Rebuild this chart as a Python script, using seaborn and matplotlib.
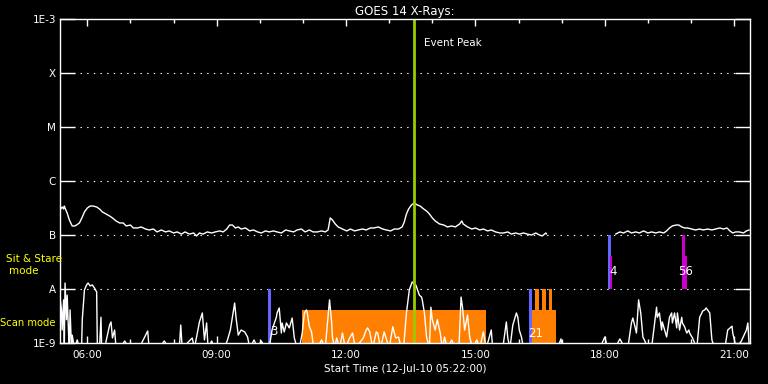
import numpy as np
import pandas as pd
import matplotlib
matplotlib.use("Agg")
import matplotlib.pyplot as plt
import seaborn as sns
from matplotlib.ticker import FixedLocator, NullLocator

# ---------------- data ----------------
title = "GOES 14 X-Rays:"
xlabel = "Start Time (12-Jul-10 05:22:00)"
start_hour = 5 + 22 / 60          # 05:22
span_minutes = 960                # 16 hours shown

# long channel (1-8 A): (minutes since start, W/m^2)
long_channel = [
    (0, 2.90e-7), (3, 3.30e-7), (5, 3.03e-7), (6, 3.44e-7), (7, 3.16e-7), (10, 2.55e-7),
    (13, 1.90e-7), (17, 1.47e-7), (21, 1.47e-7), (27, 1.67e-7), (31, 2.15e-7), (34, 2.67e-7),
    (38, 3.16e-7), (42, 3.44e-7), (46, 3.44e-7), (51, 3.30e-7), (55, 3.03e-7), (59, 2.67e-7),
    (64, 2.45e-7), (69, 2.25e-7), (73, 2.07e-7), (78, 1.82e-7), (83, 1.67e-7), (88, 1.67e-7),
    (92, 1.47e-7), (98, 1.53e-7), (102, 1.35e-7), (108, 1.35e-7), (113, 1.41e-7), (119, 1.29e-7),
    (124, 1.24e-7), (130, 1.29e-7), (135, 1.14e-7), (141, 1.24e-7), (147, 1.14e-7), (152, 1.19e-7),
    (158, 1.09e-7), (163, 1.14e-7), (169, 1.04e-7), (174, 1.14e-7), (180, 1.04e-7), (186, 1.09e-7),
    (190, 9.6e-8), (194, 1.09e-7), (199, 1.04e-7), (205, 1.14e-7), (211, 1.09e-7), (216, 1.14e-7),
    (222, 1.19e-7), (227, 1.14e-7), (232, 1.29e-7), (236, 1.53e-7), (240, 1.53e-7), (244, 1.35e-7),
    (248, 1.41e-7), (252, 1.29e-7), (258, 1.35e-7), (264, 1.19e-7), (269, 1.24e-7), (275, 1.14e-7),
    (280, 1.09e-7), (286, 1.19e-7), (291, 1.14e-7), (297, 1.19e-7), (302, 1.14e-7), (308, 1.09e-7),
    (314, 1.24e-7), (319, 1.19e-7), (325, 1.14e-7), (330, 1.24e-7), (336, 1.29e-7), (341, 1.14e-7),
    (347, 1.24e-7), (352, 1.14e-7), (358, 1.14e-7), (364, 1.19e-7), (369, 1.14e-7), (373, 1.24e-7),
    (376, 2.07e-7), (379, 1.90e-7), (383, 1.60e-7), (387, 1.41e-7), (393, 1.29e-7), (399, 1.19e-7),
    (404, 1.29e-7), (410, 1.19e-7), (415, 1.24e-7), (421, 1.29e-7), (426, 1.24e-7), (432, 1.35e-7),
    (437, 1.35e-7), (443, 1.41e-7), (449, 1.29e-7), (454, 1.24e-7), (460, 1.19e-7), (465, 1.29e-7),
    (471, 1.29e-7), (476, 1.41e-7), (479, 1.74e-7), (482, 2.45e-7), (485, 3.03e-7), (489, 3.60e-7),
    (493, 3.92e-7), (497, 3.60e-7), (501, 3.44e-7), (506, 3.03e-7), (510, 2.78e-7), (514, 2.45e-7),
    (518, 2.07e-7), (522, 1.82e-7), (528, 1.60e-7), (534, 1.53e-7), (539, 1.41e-7), (545, 1.47e-7),
    (550, 1.41e-7), (556, 1.60e-7), (559, 1.82e-7), (561, 1.60e-7), (567, 1.41e-7), (573, 1.29e-7),
    (578, 1.35e-7), (584, 1.24e-7), (589, 1.29e-7), (595, 1.19e-7), (600, 1.24e-7), (606, 1.14e-7),
    (612, 1.09e-7), (617, 1.09e-7), (623, 1.14e-7), (628, 1.04e-7), (634, 1.09e-7), (639, 1.04e-7),
    (645, 1.09e-7), (650, 1.04e-7), (656, 1.00e-7), (662, 1.09e-7), (667, 1.00e-7), (671, 9.6e-8),
    (676, 1.09e-7), (677, 1.04e-7),
    # data gap 16:40 - 18:15
    (773, 1.04e-7), (779, 1.14e-7), (784, 1.09e-7), (790, 1.19e-7), (795, 1.09e-7), (801, 1.14e-7),
    (806, 1.09e-7), (812, 1.19e-7), (818, 1.09e-7), (823, 1.14e-7), (829, 1.09e-7), (834, 1.14e-7),
    (840, 1.09e-7), (844, 1.19e-7), (848, 1.35e-7), (852, 1.47e-7), (857, 1.53e-7), (861, 1.53e-7),
    (865, 1.41e-7), (869, 1.35e-7), (873, 1.35e-7), (879, 1.29e-7), (884, 1.24e-7), (890, 1.29e-7),
    (895, 1.24e-7), (901, 1.29e-7), (907, 1.24e-7), (912, 1.29e-7), (918, 1.35e-7), (923, 1.29e-7),
    (928, 1.35e-7), (932, 1.19e-7), (936, 1.09e-7), (940, 1.14e-7), (945, 1.14e-7), (951, 1.09e-7),
    (955, 1.19e-7), (959, 1.24e-7),
]
long_gap_start = 720   # minutes: segment break of the long channel

# short channel (0.5-4 A): (minutes since start, W/m^2); 8e-10 = below plot floor
short_channel = [
    (0, 7.1e-9), (2, 4.1e-9), (3, 1.74e-9), (5, 6.3e-9), (6, 8e-10), (7, 1.29e-8), (9, 2.7e-9),
    (10, 7.7e-9), (12, 1.4e-9), (13, 8e-10), (14, 4.1e-9), (16, 8e-10), (17, 1.4e-9), (20, 8e-10),
    (24, 1.14e-9), (27, 8e-10), (30, 8e-10), (31, 2.7e-9), (34, 9.6e-9), (37, 1.19e-8), (39, 1.29e-8),
    (42, 1.14e-8), (45, 1.19e-8), (48, 1.04e-8), (51, 8.8e-9), (52, 8e-10), (55, 8e-10), (57, 3.0e-9),
    (58, 8e-10), (62, 8e-10), (66, 1.4e-9), (69, 2.15e-9), (71, 2.45e-9), (73, 1.24e-9), (76, 1.74e-9),
    (78, 8e-10), (83, 8e-10), (90, 1.09e-9), (96, 8e-10), (110, 8e-10), (119, 1.4e-9), (122, 1.67e-9),
    (124, 8e-10), (138, 8e-10), (145, 1.09e-9), (152, 8e-10), (166, 8e-10), (168, 2.15e-9), (170, 8e-10),
    (184, 1.24e-9), (187, 8e-10), (194, 2.45e-9), (198, 3.6e-9), (201, 1.14e-9), (204, 2.35e-9),
    (206, 8e-10), (211, 1.09e-9), (215, 8e-10), (229, 8e-10), (233, 1.14e-9), (237, 1.74e-9),
    (243, 5.5e-9), (245, 2.9e-9), (248, 1.4e-9), (252, 1.74e-9), (257, 1.6e-9), (261, 1.29e-9),
    (264, 8e-10), (270, 1.14e-9), (275, 8e-10), (280, 1.09e-9), (286, 8e-10), (291, 8e-10),
    (295, 1.74e-9), (301, 3.0e-9), (302, 3.6e-9), (305, 4.45e-9), (308, 1.53e-9), (309, 2.35e-9),
    (312, 1.6e-9), (315, 2.35e-9), (319, 1.9e-9), (323, 2.9e-9), (326, 1.24e-9), (330, 8e-10),
    (333, 8e-10), (337, 1.53e-9), (340, 3.6e-9), (343, 4.1e-9), (344, 3.6e-9), (347, 2.0e-9),
    (350, 1.6e-9), (353, 8e-10), (358, 8e-10), (364, 1.14e-9), (369, 8e-10), (375, 6.3e-9),
    (378, 2.35e-9), (379, 1.29e-9), (382, 8e-10), (385, 1.24e-9), (389, 8e-10), (393, 1.53e-9),
    (397, 8e-10), (403, 1.24e-9), (407, 1.53e-9), (411, 8e-10), (422, 1.24e-9), (426, 1.74e-9),
    (428, 1.9e-9), (431, 1.6e-9), (435, 8e-10), (440, 1.6e-9), (442, 1.53e-9), (446, 8e-10),
    (451, 1.6e-9), (458, 8e-10), (463, 2.0e-9), (467, 1.24e-9), (471, 1.29e-9), (475, 8e-10),
    (478, 8e-10), (482, 3.6e-9), (486, 9.6e-9), (490, 1.35e-8), (495, 1.19e-8), (500, 7.7e-9),
    (503, 7.1e-9), (504, 6.3e-9), (507, 3.6e-9), (510, 1.29e-9), (514, 8e-10), (516, 4.6e-9),
    (518, 2.7e-9), (522, 1.74e-9), (525, 2.7e-9), (529, 1.53e-9), (532, 8e-10), (535, 1.29e-9),
    (539, 8e-10), (545, 1.14e-9), (550, 8e-10), (555, 8e-10), (558, 7.1e-9), (560, 4.6e-9),
    (563, 1.74e-9), (567, 3.3e-9), (570, 1.29e-9), (574, 8e-10), (580, 1.14e-9), (584, 8e-10),
    (589, 1.6e-9), (593, 8e-10), (600, 1.74e-9), (602, 8e-10), (616, 8e-10), (621, 2.45e-9),
    (623, 1.24e-9), (626, 8e-10), (630, 2.15e-9), (635, 3.6e-9), (637, 3.0e-9), (639, 1.74e-9),
    (642, 1.29e-9), (645, 8e-10), (667, 8e-10), (692, 8e-10), (697, 1.19e-9), (699, 8e-10),
    (751, 8e-10), (758, 1.29e-9), (762, 8e-10), (772, 8e-10), (779, 1.19e-9), (786, 8e-10),
    (790, 8e-10), (795, 2.35e-9), (797, 2.9e-9), (800, 2.0e-9), (802, 1.53e-9), (805, 6.3e-9),
    (808, 3.6e-9), (811, 1.29e-9), (813, 1.14e-9), (818, 8e-10), (823, 8e-10), (830, 4.6e-9),
    (831, 3.0e-9), (834, 3.6e-9), (837, 1.74e-9), (838, 2.45e-9), (844, 1.29e-9), (848, 3.0e-9),
    (851, 3.6e-9), (852, 2.35e-9), (855, 3.6e-9), (858, 1.9e-9), (859, 3.6e-9), (862, 1.74e-9),
    (865, 3.0e-9), (866, 2.35e-9), (869, 2.0e-9), (872, 1.53e-9), (875, 1.74e-9), (876, 1.53e-9),
    (880, 1.24e-9), (886, 8e-10), (890, 3.0e-9), (893, 3.6e-9), (894, 3.9e-9), (897, 4.1e-9),
    (899, 4.45e-9), (901, 4.1e-9), (904, 3.6e-9), (907, 1.14e-9), (911, 8e-10), (925, 8e-10),
    (929, 1.74e-9), (935, 2.05e-9), (936, 1.53e-9), (941, 8e-10), (948, 1.09e-9), (955, 1.74e-9),
    (957, 2.35e-9), (959, 8e-10),
]

class_levels = [1e-9, 1e-8, 1e-7, 1e-6, 1e-5, 1e-4, 1e-3]
class_labels = ["1E-9", "A", "B", "C", "M", "X", "1E-3"]
tick_hours = [6, 9, 12, 15, 18, 21]
tick_labels = ["06:00", "09:00", "12:00", "15:00", "18:00", "21:00"]

event_peak = 492  # minutes since start (13:34)
event_text = "Event Peak"

# scan-mode observations: (start min, end min, low flux, high flux)
scan_blocks = [(337, 592, 1e-9, 4.1e-9), (655, 690, 1e-9, 4.1e-9),
               (661, 666, 4.1e-9, 1e-8), (670, 676, 4.1e-9, 1e-8), (680, 685, 4.1e-9, 1e-8)]
# sit & stare observations
stare_blue = [(290, 293, 1e-9, 1e-8), (652, 656, 1e-9, 1e-8), (763, 766, 1e-8, 1e-7)]
stare_magenta = [(765, 768, 1e-8, 4.1e-8), (865, 869, 1e-8, 1e-7), (869, 873, 1e-8, 4.1e-8)]
# observation number labels (adjacent numbers share one label): (text, minute, flux)
obs_labels = [("3", 297, 1.6e-9), ("21", 662, 1.53e-9),
              ("4", 769, 2.07e-8), ("56", 870, 2.07e-8)]

# ---------------- style ----------------
sns.set_style("dark", {"axes.facecolor": "black", "figure.facecolor": "black",
                       "axes.edgecolor": "white", "text.color": "white",
                       "xtick.color": "white", "ytick.color": "white",
                       "axes.labelcolor": "white"})
plt.rcParams["font.family"] = ["DejaVu Sans"]

W, H = 768, 384
fig = plt.figure(figsize=(W / 100, H / 100), dpi=100, facecolor="black")
ax = fig.add_axes([60 / W, (H - 343) / H, (750 - 60) / W, (343 - 19) / H])
ax.set_facecolor("black")

ORANGE = "#ff8000"
BLUE = "#6464ff"
MAGENTA = "#cc00cc"
GREEN = "#99cc00"

def draw_blocks(blocks, color, z):
    for t0, t1, lo, hi in blocks:
        ax.bar(t0, hi - lo, width=t1 - t0, bottom=lo, align="edge",
               color=color, linewidth=0, zorder=z)

ax.set_yscale("log")
draw_blocks(scan_blocks, ORANGE, 1)
draw_blocks(stare_blue, BLUE, 2)
draw_blocks(stare_magenta, MAGENTA, 2.1)

long_df = pd.DataFrame(long_channel, columns=["minute", "flux"])
long_df["seg"] = (long_df["minute"] > long_gap_start).astype(int)
short_df = pd.DataFrame(short_channel, columns=["minute", "flux"])

sns.lineplot(data=long_df, x="minute", y="flux", units="seg", estimator=None,
             color="white", linewidth=1, ax=ax, zorder=3)
sns.lineplot(data=short_df, x="minute", y="flux", estimator=None,
             color="white", linewidth=1, ax=ax, zorder=3)

ax.axvline(event_peak, color=GREEN, linewidth=2, zorder=4)
ax.text(event_peak + 15, 3.6e-4, event_text, color="white", fontsize=7.5,
        ha="left", va="center", zorder=5)

for txt, m, f in obs_labels:
    ax.text(m, f, txt, color="white", fontsize=8.5, ha="center", va="center", zorder=5)

for lvl in class_levels[1:-1]:
    ax.axhline(lvl, color="white", linewidth=0.8, linestyle=(0, (1.25, 4.75)), zorder=0.5)

ax.set_xlim(0, span_minutes)
ax.set_ylim(class_levels[0], class_levels[-1])

ax.set_yticks(class_levels)
ax.set_yticklabels(class_labels)
ax.yaxis.set_minor_locator(NullLocator())
major_x = [(h - start_hour) * 60 for h in tick_hours]
ax.set_xticks(major_x)
ax.set_xticklabels(tick_labels)
minor_x = [(h - start_hour) * 60 for h in range(6, 22)]
ax.xaxis.set_minor_locator(FixedLocator(minor_x))

ax.tick_params(axis="y", which="major", direction="in", length=10.8, width=1,
               left=True, right=True, labelsize=7.5, pad=3, colors="white")
ax.tick_params(axis="x", which="major", direction="in", length=5, width=1,
               top=True, bottom=True, labelsize=7.5, pad=5, colors="white")
ax.tick_params(axis="x", which="minor", direction="in", length=3, width=1,
               top=True, bottom=True, colors="white")
ax.set_xlabel(xlabel, fontsize=7.5, labelpad=3, color="white")
ax.set_ylabel("")
ax.set_title(title, fontsize=8.5, color="white", pad=3)
for s in ax.spines.values():
    s.set_color("white")
    s.set_linewidth(1)
    s.set_zorder(6)
ax.grid(False)

fig.text(34 / W, 1 - 259 / H, "Sit & Stare", color="yellow", fontsize=7.5, ha="center", va="center")
fig.text(24 / W, 1 - 271 / H, "mode", color="yellow", fontsize=7.5, ha="center", va="center")
fig.text(28 / W, 1 - 323 / H, "Scan mode", color="yellow", fontsize=7.2, ha="center", va="center")

fig.savefig("out.png", dpi=100, facecolor="black")
